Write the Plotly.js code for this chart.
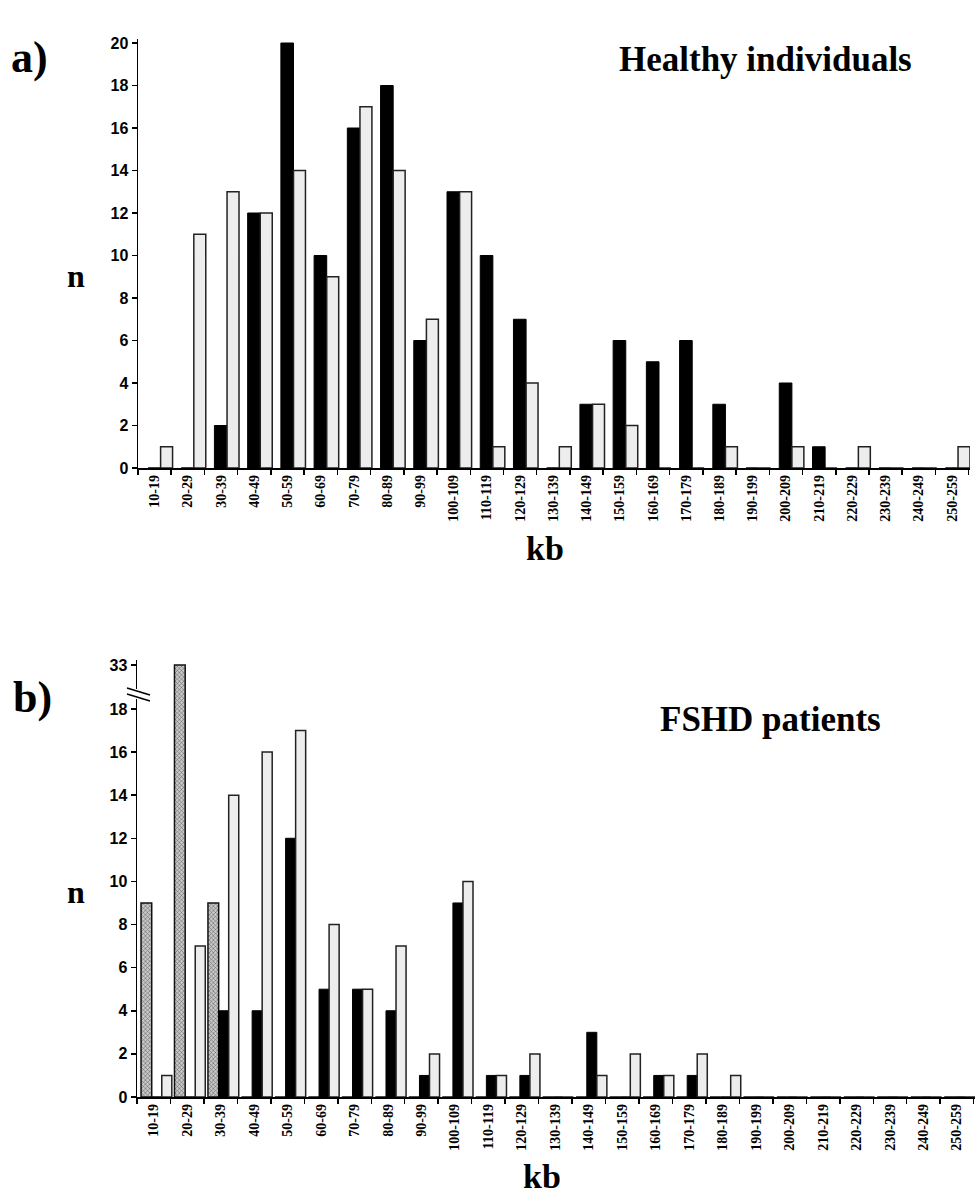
<!DOCTYPE html>
<html>
<head>
<meta charset="utf-8">
<script src="https://cdn.plot.ly/plotly-3.0.1.min.js"></script>
<style>html,body{margin:0;padding:0;background:#fff;} #chart{width:977px;height:1194px;}</style>
</head>
<body>
<div id="chart"></div>
<script>
// ---- data ----
var categories = ["10-19","20-29","30-39","40-49","50-59","60-69","70-79","80-89","90-99","100-109",
  "110-119","120-129","130-139","140-149","150-159","160-169","170-179","180-189","190-199","200-209",
  "210-219","220-229","230-239","240-249","250-259"];

// a) Healthy individuals
var healthyBlack = [0,0,2,12,20,10,16,18,6,13,10,7,0,3,6,5,6,3,0,4,1,0,0,0,0];
var healthyWhite = [1,11,13,12,14,9,17,14,7,13,1,4,1,3,2,0,0,1,0,1,0,1,0,0,1];

// b) FSHD patients
var fshdHatched = [9,33,9,0,0,0,0,0,0,0,0,0,0,0,0,0,0,0,0,0,0,0,0,0,0];
var fshdBlack   = [0,0,4,4,12,5,5,4,1,9,1,1,0,3,0,1,1,0,0,0,0,0,0,0,0];
var fshdWhite   = [1,7,14,16,17,8,5,7,2,10,1,2,0,1,2,1,2,1,0,0,0,0,0,0,0];

var yTicksTop = [0,2,4,6,8,10,12,14,16,18,20];
var yTicksBottom = [0,2,4,6,8,10,12,14,16,18];
var yTicksBroken = [33];

// ---- helpers ----
var W = 977, H = 1194;
function px(x){ return x / W; }
function py(y){ return 1 - y / H; }

var serif = "Liberation Serif, Times New Roman, serif";
var sans = "Liberation Sans, Arial, sans-serif";

var blackStyle = {color: "#000000", line: {color: "#000000", width: 1}};
var whiteStyle = {color: "#ededed", line: {color: "#222222", width: 1.5}};
var hatchStyle = {color: "#b0b0b0", line: {color: "#111111", width: 1.5},
                  pattern: {shape: "x", fgcolor: "#555555", bgcolor: "#c8c8c8", size: 3, solidity: 0.3}};

function bar(y, xa, ya, marker, offset, width){
  return {type: "bar", x: categories, y: y, xaxis: xa, yaxis: ya, marker: marker,
          offset: offset, width: width, showlegend: false, hoverinfo: "x+y"};
}

var traces = [
  bar(healthyBlack, "x", "y", blackStyle, -0.2, 0.38),
  bar(healthyWhite, "x", "y", whiteStyle, 0.18, 0.36),
  bar(fshdHatched, "x2", "y2", hatchStyle, -0.38, 0.32),
  bar(fshdBlack, "x2", "y2", blackStyle, -0.06, 0.3),
  bar(fshdWhite, "x2", "y2", whiteStyle, 0.24, 0.3),
  // upper segment of the broken axis
  bar(fshdHatched, "x3", "y3", hatchStyle, -0.38, 0.32),
  bar(fshdBlack, "x3", "y3", blackStyle, -0.06, 0.3),
  bar(fshdWhite, "x3", "y3", whiteStyle, 0.24, 0.3)
];

var xTickFont = {family: serif, size: 14, color: "#000", weight: "bold"};
var yTickFont = {family: sans, size: 16, color: "#000", weight: "bold"};

function xAxis(domain, anchor, show){
  return {
    domain: domain, anchor: anchor, type: "category",
    showline: show, linecolor: "#000", linewidth: 1.5,
    ticks: show ? "outside" : "", tickson: "boundaries", ticklen: 5, tickwidth: 1.5, tickcolor: "#000",
    showticklabels: show, tickangle: -90, tickfont: xTickFont,
    showgrid: false, zeroline: false, fixedrange: true
  };
}
function yAxis(domain, anchor, range, tickvals){
  return {
    domain: domain, anchor: anchor, range: range,
    showline: true, linecolor: "#000", linewidth: 1.5,
    ticks: "outside", ticklen: 5, tickwidth: 1.5, tickcolor: "#000",
    tickvals: tickvals, ticktext: tickvals.map(String), tickfont: yTickFont,
    showgrid: false, zeroline: false, fixedrange: true
  };
}

var annFont = function(size){ return {family: serif, size: size, color: "#000", weight: "bold"}; };
function ann(text, x, y, size){
  return {text: text, x: px(x), y: py(y), xref: "paper", yref: "paper", showarrow: false,
          xanchor: "center", yanchor: "middle", font: annFont(size)};
}

var layout = {
  width: W, height: H,
  margin: {l: 0, r: 0, t: 0, b: 0},
  paper_bgcolor: "#ffffff", plot_bgcolor: "rgba(0,0,0,0)",
  barmode: "overlay",
  showlegend: false,
  xaxis: xAxis([px(138), px(970)], "y", true),
  yaxis: yAxis([py(468), py(468 - 20.2 * 21.25)], "x", [0, 20.2], yTicksTop),
  xaxis2: xAxis([px(137), px(975)], "y2", true),
  yaxis2: yAxis([py(1097), py(694)], "x2", [0, (1097 - 694) / 21.56], yTicksBottom),
  xaxis3: xAxis([px(137), px(975)], "y3", false),
  yaxis3: yAxis([py(694), py(660)], "x3", [33 - 29 / 21.56, 33 + 5 / 21.56], yTicksBroken),
  annotations: [
    ann("a)", 29, 58, 44),
    ann("Healthy individuals", 765, 60, 35),
    ann("n", 76, 276, 32),
    ann("kb", 545, 548, 34),
    ann("b)", 32, 697, 44),
    ann("FSHD patients", 770, 720, 35),
    ann("n", 76, 892, 32),
    ann("kb", 542, 1176, 34)
  ],
  shapes: [
    {type: "rect", xref: "paper", yref: "paper", x0: px(134), x1: px(141), y0: py(699), y1: py(689),
     fillcolor: "#ffffff", line: {width: 0}},
    {type: "line", xref: "paper", yref: "paper", x0: px(127), y0: py(688), x1: px(150), y1: py(695),
     line: {color: "#000", width: 1.5}},
    {type: "line", xref: "paper", yref: "paper", x0: px(127), y0: py(694), x1: px(150), y1: py(701),
     line: {color: "#000", width: 1.5}}
  ]
};

Plotly.newPlot("chart", traces, layout, {displayModeBar: false, staticPlot: true});
</script>
</body>
</html>
